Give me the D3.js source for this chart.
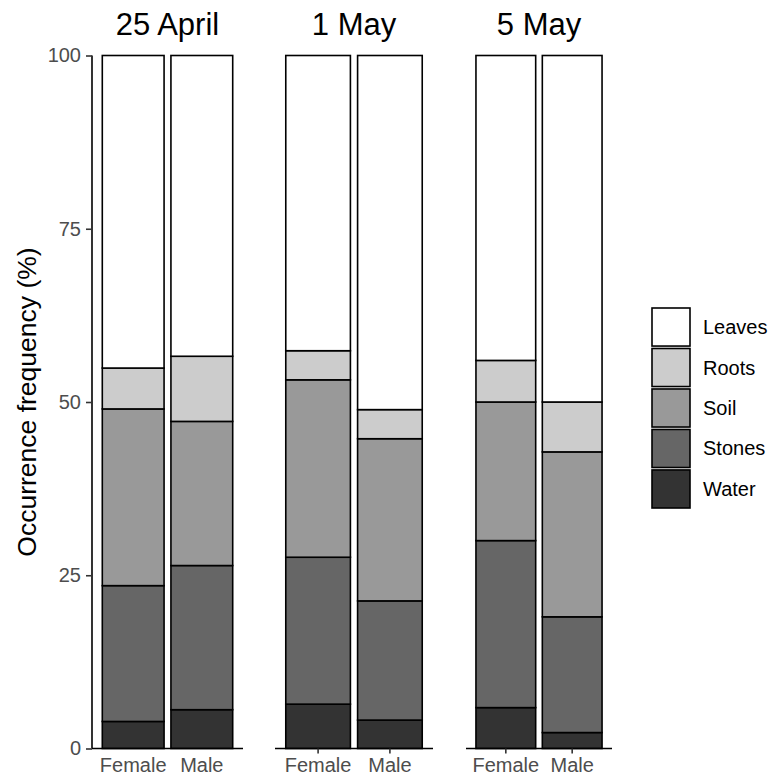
<!DOCTYPE html>
<html>
<head>
<meta charset="utf-8">
<script src="https://cdn.jsdelivr.net/npm/d3@7"></script>
<style>
  body { margin: 0; background: #fff; }
  text { font-family: "Liberation Sans", Arial, sans-serif; }
</style>
</head>
<body>
<script>
// data
const dates = ['25 April', '1 May', '5 May'];
const sexes = ['Female', 'Male'];
const categories = ['Water', 'Stones', 'Soil', 'Roots', 'Leaves'];
// one value per date x sex: 25A-F, 25A-M, 1M-F, 1M-M, 5M-F, 5M-M
const water  = [3.9, 5.6, 6.4, 4.1, 5.9, 2.3];
const stones = [19.6, 20.8, 21.2, 17.2, 24.1, 16.7];
const soil   = [25.5, 20.8, 25.6, 23.4, 20.0, 23.8];
const roots  = [5.9, 9.4, 4.2, 4.2, 6.0, 7.2];
const leaves = [45.1, 43.4, 42.6, 51.1, 44.0, 50.0];
const yTicks = [0, 25, 50, 75, 100];

const fills = { Water: '#333333', Stones: '#666666', Soil: '#999999', Roots: '#cccccc', Leaves: '#ffffff' };

const rows = [];
dates.forEach((d, i) => {
  sexes.forEach((s, j) => {
    const k = i * 2 + j;
    rows.push({ date: d, sex: s, Water: water[k], Stones: stones[k], Soil: soil[k], Roots: roots[k], Leaves: leaves[k] });
  });
});

const stacked = d3.stack().keys(categories)(rows);

const width = 770;
const height = 779;

const svg = d3.select('body')
  .append('svg')
    .attr('width', width)
    .attr('height', height);

const y = d3.scaleLinear().domain([0, 100]).range([748.5, 55.5]);

// panel extents (pixels) per facet
const panels = d3.scaleOrdinal().domain(dates).range([[92, 243], [275, 433], [466, 612]]);

dates.forEach((d, i) => {
  const [x0, x1] = panels(d);
  const x = d3.scaleBand().domain(sexes).range([x0, x1]).paddingInner(0.1).paddingOuter(0.15);

  const g = svg.append('g').attr('class', 'panel');

  // facet title
  g.append('text')
    .attr('x', (x0 + x1) / 2)
    .attr('y', 35)
    .attr('text-anchor', 'middle')
    .style('font-size', '31px')
    .style('fill', '#000')
    .text(d);

  stacked.forEach(layer => {
    g.selectAll(null)
      .data(layer.filter(p => p.data.date === d))
      .enter()
      .append('rect')
        .attr('x', p => x(p.data.sex))
        .attr('width', x.bandwidth())
        .attr('y', p => y(p[1]))
        .attr('height', p => y(p[0]) - y(p[1]))
        .style('fill', fills[layer.key])
        .style('stroke', '#000')
        .style('stroke-width', 1.6);
  });

  // x axis
  const xAxis = d3.axisBottom(x).tickSize(i === 0 ? 0 : 5).tickPadding(i === 0 ? 9 : 4);
  const ax = g.append('g')
    .attr('transform', `translate(0, ${y(0)})`)
    .call(xAxis);
  ax.select('.domain').attr('d', `M${x0},0H${x1}`).style('stroke', '#000').style('stroke-width', 1.6);
  ax.selectAll('.tick line').style('stroke', '#333').style('stroke-width', 1.6);
  ax.selectAll('.tick text')
    .style('font-size', '20px')
    .style('fill', '#4d4d4d')
    .style('font-family', '"Liberation Sans", Arial, sans-serif');

  if (i === 0) {
    const yAxis = d3.axisLeft(y).tickValues(yTicks).tickSize(6).tickPadding(5);
    const ay = g.append('g')
      .attr('transform', `translate(${x0}, 0)`)
      .call(yAxis);
    ay.select('.domain').attr('d', `M0,${y(100)}V${y(0)}`).style('stroke', '#000').style('stroke-width', 1.6);
    ay.selectAll('.tick line').style('stroke', '#333').style('stroke-width', 1.6);
    ay.selectAll('.tick text')
      .style('font-size', '20px')
      .style('fill', '#4d4d4d')
      .style('font-family', '"Liberation Sans", Arial, sans-serif');
  }
});

// y axis title
svg.append('text')
  .attr('transform', `translate(36, ${(y(0) + y(100)) / 2}) rotate(-90)`)
  .attr('text-anchor', 'middle')
  .style('font-size', '26.5px')
  .style('fill', '#000')
  .text('Occurrence frequency (%)');

// legend
const legend = svg.append('g').attr('transform', 'translate(652, 308)');
const legendKeys = categories.slice().reverse();
const ly = d3.scaleBand().domain(legendKeys).range([0, 200]).paddingInner(0.06);

legend.selectAll('rect')
  .data(legendKeys)
  .enter()
  .append('rect')
    .attr('x', 0)
    .attr('y', k => ly(k))
    .attr('width', 38)
    .attr('height', ly.bandwidth())
    .style('fill', k => fills[k])
    .style('stroke', '#000')
    .style('stroke-width', 1.6);

legend.selectAll('text')
  .data(legendKeys)
  .enter()
  .append('text')
    .attr('x', 51)
    .attr('y', k => ly(k) + ly.bandwidth() / 2)
    .attr('dy', '0.35em')
    .style('font-size', '20px')
    .style('fill', '#000')
    .text(k => k);
</script>
</body>
</html>
